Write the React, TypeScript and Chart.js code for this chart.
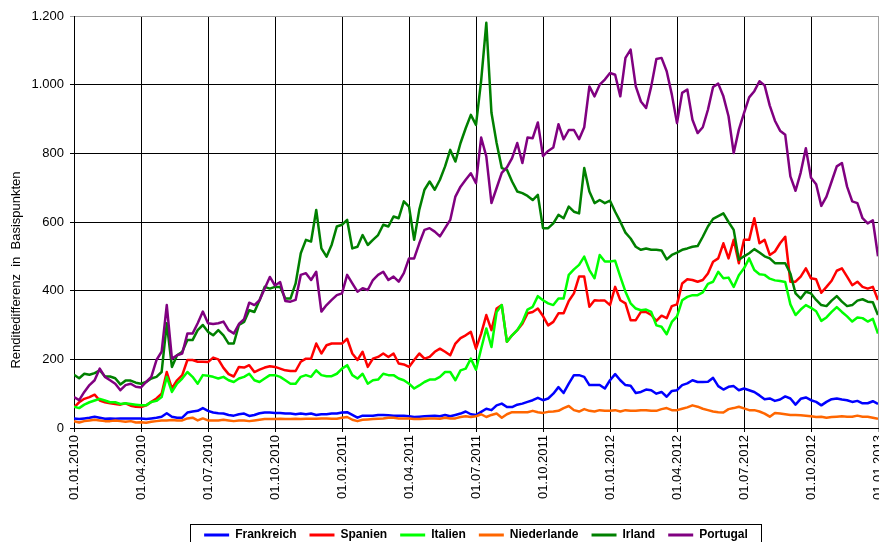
import React, { useEffect, useRef } from 'react';
import { Chart, registerables } from 'chart.js';

Chart.register(...registerables);

const FONT = "'Liberation Sans', Arial, sans-serif";

// Quarter tick labels (one every 13 weeks)
const quarterLabels = [
  '01.01.2010', '01.04.2010', '01.07.2010', '01.10.2010',
  '01.01.2011', '01.04.2011', '01.07.2011', '01.10.2011',
  '01.01.2012', '01.04.2012', '01.07.2012', '01.10.2012',
  '01.01.2013',
];
const WEEKS_PER_QUARTER = 13;
const yTickValues = [0, 200, 400, 600, 800, 1000, 1200];
const yTitle = 'Renditedifferenz  in  Basispunkten';

const seriesNames = ['Frankreich', 'Spanien', 'Italien', 'Niederlande', 'Irland', 'Portugal'];
const seriesColors = ['#0000FF', '#FF0000', '#00FF00', '#FF6600', '#008000', '#800080'];

// Weekly spreads (bp), week 0 = 01.01.2010
const frankreich = [
  28, 26, 28, 30, 33, 30, 27, 28, 27, 28, 28, 28, 28,
  28, 26, 28, 30, 33, 43, 33, 30, 30, 45, 48, 50, 58,
  50, 45, 43, 42, 38, 36, 40, 42, 35, 38, 43, 45, 45,
  44, 44, 42, 42, 40, 42, 40, 42, 38, 40, 40, 42, 42,
  45, 46, 38, 30, 36, 36, 36, 38, 38, 37, 36, 36, 36,
  34, 32, 33, 34, 35, 36, 34, 38, 34, 38, 42, 48, 40,
  38, 47, 56, 52, 66, 71, 61, 61, 68, 71, 76, 81, 88,
  81, 86, 100, 119, 102, 129, 154, 154, 149, 125, 125, 125, 115,
  139, 157, 139, 125, 123, 102, 105, 112, 110, 100, 105, 91, 108,
  110, 125, 130, 139, 134, 134, 135, 146, 122, 112, 120, 122, 110,
  115, 110, 105, 95, 84, 86, 79, 83, 92, 86, 68, 85, 89,
  81, 76, 66, 76, 84, 86, 83, 81, 76, 79, 72, 72, 78,
  70,
];

const spanien = [
  60, 75, 85, 90, 97, 80, 75, 72, 70, 68, 72, 65, 62,
  61, 66, 76, 86, 100, 163, 115, 139, 154, 198, 198, 193, 193,
  192, 205, 200, 175, 157, 150, 178, 176, 183, 163, 170, 176, 180,
  178, 173, 168, 166, 166, 193, 202, 202, 246, 217, 241, 246, 246,
  246, 260, 217, 198, 222, 178, 202, 207, 217, 207, 217, 188, 185,
  178, 198, 217, 202, 207, 222, 231, 222, 212, 246, 262, 270, 280,
  231, 275, 329, 285, 348, 358, 251, 270, 285, 304, 334, 338, 348,
  326, 299, 309, 334, 334, 370, 392, 441, 441, 353, 372, 371, 371,
  358, 411, 372, 363, 314, 314, 338, 338, 329, 312, 327, 320, 355,
  360, 421, 433, 431, 426, 431, 450, 484, 494, 538, 494, 548, 480,
  548, 548, 611, 538, 548, 504, 514, 538, 557, 426, 426, 441, 465,
  436, 433, 394, 411, 429, 458, 465, 441, 416, 426, 411, 406, 411,
  373,
];

const italien = [
  62, 58, 68, 75, 80, 85, 80, 75, 75, 70, 72, 70, 68,
  66, 66, 76, 79, 90, 149, 105, 129, 144, 163, 149, 129, 154,
  152, 149, 144, 149, 139, 134, 144, 149, 158, 139, 134, 144, 154,
  154, 149, 139, 129, 129, 149, 154, 149, 168, 154, 151, 151, 158,
  173, 183, 154, 144, 158, 129, 139, 141, 158, 154, 154, 144, 139,
  129, 115, 124, 134, 141, 141, 149, 163, 163, 139, 168, 173, 202,
  170, 231, 290, 236, 338, 358, 251, 270, 285, 309, 345, 353, 384,
  372, 363, 358, 377, 377, 446, 462, 475, 499, 460, 436, 504, 485,
  485, 487, 441, 397, 363, 348, 343, 345, 338, 299, 295, 273, 309,
  325, 372, 382, 387, 387, 395, 420, 426, 455, 436, 438, 411, 445,
  465, 494, 460, 448, 446, 435, 430, 428, 425, 360, 329, 345, 358,
  350, 340, 312, 322, 338, 352, 338, 325, 310, 322, 320, 310, 318,
  275,
];

const niederlande = [
  20, 16, 20, 22, 24, 22, 20, 20, 22, 20, 18, 20, 16,
  17, 15, 18, 20, 22, 22, 23, 22, 22, 28, 30, 22, 28,
  22, 22, 22, 24, 22, 20, 22, 22, 20, 22, 24, 26, 26,
  26, 27, 26, 26, 27, 26, 27, 27, 27, 28, 28, 27, 27,
  30, 32, 24, 20, 24, 25, 26, 27, 28, 30, 30, 28, 28,
  28, 26, 26, 27, 28, 28, 27, 30, 28, 28, 32, 34, 32,
  34, 40, 32, 38, 42, 30, 40, 46, 46, 46, 46, 50, 46,
  44, 47, 48, 50, 58, 64, 52, 48, 55, 50, 48, 52, 50,
  50, 52, 48, 52, 50, 50, 52, 52, 50, 50, 55, 58, 52,
  52, 56, 60, 66, 62, 56, 52, 48, 46, 45, 55, 58, 62,
  57, 52, 52, 48, 42, 33, 44, 42, 40, 38, 38, 37, 36,
  34, 32, 33, 30, 32, 33, 34, 33, 33, 36, 33, 33, 30,
  27,
];

const irland = [
  155, 145, 158, 155, 160, 168, 150, 150, 145, 127, 138, 138, 132,
  129, 134, 144, 149, 163, 305, 178, 212, 222, 256, 256, 285, 300,
  280, 270, 285, 270, 246, 246, 300, 309, 343, 338, 372, 411, 406,
  411, 411, 377, 377, 421, 509, 548, 543, 635, 523, 499, 534, 587,
  592, 606, 523, 528, 562, 533, 548, 562, 592, 587, 616, 611, 660,
  645, 548, 636, 694, 718, 694, 723, 762, 810, 776, 830, 873, 912,
  883, 1012, 1180, 918, 830, 757, 752, 718, 689, 684, 676, 664, 679,
  582, 582, 596, 621, 611, 645, 630, 625, 757, 689, 655, 664, 655,
  662, 630, 601, 569, 552, 528, 519, 523, 519, 519, 517, 491, 504,
  511, 519, 523, 528, 530, 557, 587, 609, 617, 625, 600, 577, 490,
  500, 509, 521, 511, 500, 494, 480, 480, 480, 450, 392, 377, 397,
  392, 373, 358, 355, 371, 384, 368, 355, 358, 371, 375, 368, 366,
  329,
];

const portugal = [
  90, 81, 105, 125, 139, 173, 149, 139, 129, 110, 125, 129, 120,
  118, 134, 149, 198, 222, 358, 202, 212, 217, 275, 275, 305, 339,
  305, 303, 305, 310, 285, 275, 303, 317, 365, 358, 372, 406, 440,
  415, 425, 370, 368, 373, 446, 451, 431, 455, 339, 358, 373, 387,
  392, 446, 421, 397, 407, 402, 431, 446, 455, 431, 441, 426, 451,
  494, 494, 538, 577, 582, 572, 558, 582, 606, 674, 703, 723, 742,
  713, 846, 791, 655, 699, 743, 759, 786, 830, 772, 846, 844, 890,
  792, 807, 817, 885, 841, 868, 868, 841, 876, 995, 966, 1000, 1015,
  1034, 1029, 966, 1078, 1102, 995, 951, 932, 995, 1075, 1078, 1039, 971,
  888, 976, 986, 898, 859, 876, 927, 993, 1003, 966, 908, 801, 869,
  917, 963, 981, 1010, 998, 939, 895, 866, 854, 733, 691, 744, 815,
  729, 710, 647, 674, 718, 762, 772, 703, 660, 655, 611, 596, 605,
  500,
];

const seriesValues = [frankreich, spanien, italien, niederlande, irland, portugal];
const weekIndex = frankreich.map((_, i) => i);

function formatDE(v: number): string {
  if (v >= 1000) {
    return Math.floor(v / 1000) + '.' + String(v % 1000).padStart(3, '0');
  }
  return String(v);
}

const yTitlePlugin = {
  id: 'yTitlePlugin',
  afterDraw(chart: any) {
    const ctx = chart.ctx;
    ctx.save();
    ctx.translate(16, 270);
    ctx.rotate(-Math.PI / 2);
    ctx.font = `13px ${FONT}`;
    ctx.fillStyle = '#000';
    ctx.textAlign = 'center';
    ctx.textBaseline = 'middle';
    ctx.fillText(yTitle, 0, 0);
    ctx.restore();
  },
};

const legendBoxPlugin = {
  id: 'legendBoxPlugin',
  afterDraw(chart: any) {
    const lg = chart.legend;
    const hb = lg && lg.legendHitBoxes;
    if (!hb || !hb.length) return;
    let minL = Infinity;
    let maxR = -Infinity;
    hb.forEach((h: any) => {
      minL = Math.min(minL, h.left);
      maxR = Math.max(maxR, h.left + h.width);
    });
    const cy = hb[0].top + hb[0].height / 2;
    const ctx = chart.ctx;
    ctx.save();
    ctx.strokeStyle = '#000';
    ctx.lineWidth = 1;
    const x0 = Math.round(minL - 14) + 0.5;
    const x1 = Math.round(maxR + 13) + 0.5;
    const y0 = Math.round(cy - 11) + 0.5;
    ctx.strokeRect(x0, y0, x1 - x0, 24);
    ctx.restore();
  },
};

export default function App() {
  const canvasRef = useRef<HTMLCanvasElement | null>(null);

  useEffect(() => {
    if (!canvasRef.current) return;
    const chart = new Chart(canvasRef.current, {
      type: 'line',
      data: {
        labels: weekIndex,
        datasets: seriesValues.map((vals, i) => ({
          label: seriesNames[i],
          data: vals,
          borderColor: seriesColors[i],
          backgroundColor: seriesColors[i],
          borderWidth: 2.5,
          pointRadius: 0,
          pointHoverRadius: 0,
          pointBorderWidth: 3,
          tension: 0,
          borderJoinStyle: 'round',
          fill: false,
          order: seriesValues.length - 1 - i,
        })),
      },
      options: {
        responsive: false,
        animation: false,
        events: [],
        layout: { padding: { left: 0, right: 1, top: 16, bottom: 0 }, autoPadding: false },
        scales: {
          x: {
            type: 'linear',
            min: 0,
            max: (quarterLabels.length - 1) * WEEKS_PER_QUARTER,
            afterBuildTicks: (scale: any) => {
              scale.ticks = quarterLabels.map((_, i) => ({ value: i * WEEKS_PER_QUARTER }));
            },
            afterFit: (scale: any) => {
              scale.height = 88;
              scale.paddingLeft = 0;
              scale.paddingRight = 0;
            },
            ticks: {
              autoSkip: false,
              minRotation: 90,
              maxRotation: 90,
              padding: 3,
              color: '#000',
              font: { size: 13, family: FONT },
              callback: (v: any) => quarterLabels[Math.round(Number(v) / WEEKS_PER_QUARTER)] ?? '',
            },
            grid: {
              color: (ctx: any) =>
                ctx.tick && ctx.tick.value === (quarterLabels.length - 1) * WEEKS_PER_QUARTER ? '#a0a0a0' : '#000',
              lineWidth: 1,
              tickLength: 4,
              drawTicks: true,
            },
            border: { color: '#000', width: 1 },
          },
          y: {
            min: 0,
            max: 1200,
            afterBuildTicks: (scale: any) => {
              scale.ticks = yTickValues.map((v) => ({ value: v }));
            },
            afterFit: (scale: any) => {
              scale.width = 74;
              scale.paddingTop = 0;
              scale.paddingBottom = 0;
            },
            ticks: {
              padding: 6,
              color: '#000',
              font: { size: 13, family: FONT },
              callback: (v: any) => formatDE(Number(v)),
            },
            grid: {
              color: (ctx: any) => (ctx.tick && ctx.tick.value === 1200 ? '#a0a0a0' : '#000'),
              lineWidth: 1,
              tickLength: 4,
            },
            border: { color: '#000', width: 1 },
          },
        },
        plugins: {
          legend: {
            position: 'bottom',
            fullSize: false,
            labels: {
              usePointStyle: true,
              pointStyle: 'line',
              pointStyleWidth: 25,
              padding: 13,
              color: '#000',
              font: { size: 12, weight: 'bold', family: FONT },
              sort: (a: any, b: any) => a.datasetIndex - b.datasetIndex,
            },
          },
          tooltip: { enabled: false },
          title: { display: false },
        },
      } as any,
      plugins: [yTitlePlugin, legendBoxPlugin],
    });
    return () => chart.destroy();
  }, []);

  return (
    <div
      style={{
        position: 'absolute',
        left: 0,
        top: 0,
        width: 879,
        height: 542,
        overflow: 'hidden',
        background: '#fff',
      }}
    >
      <canvas ref={canvasRef} width={879} height={551} style={{ display: 'block' }} />
    </div>
  );
}
